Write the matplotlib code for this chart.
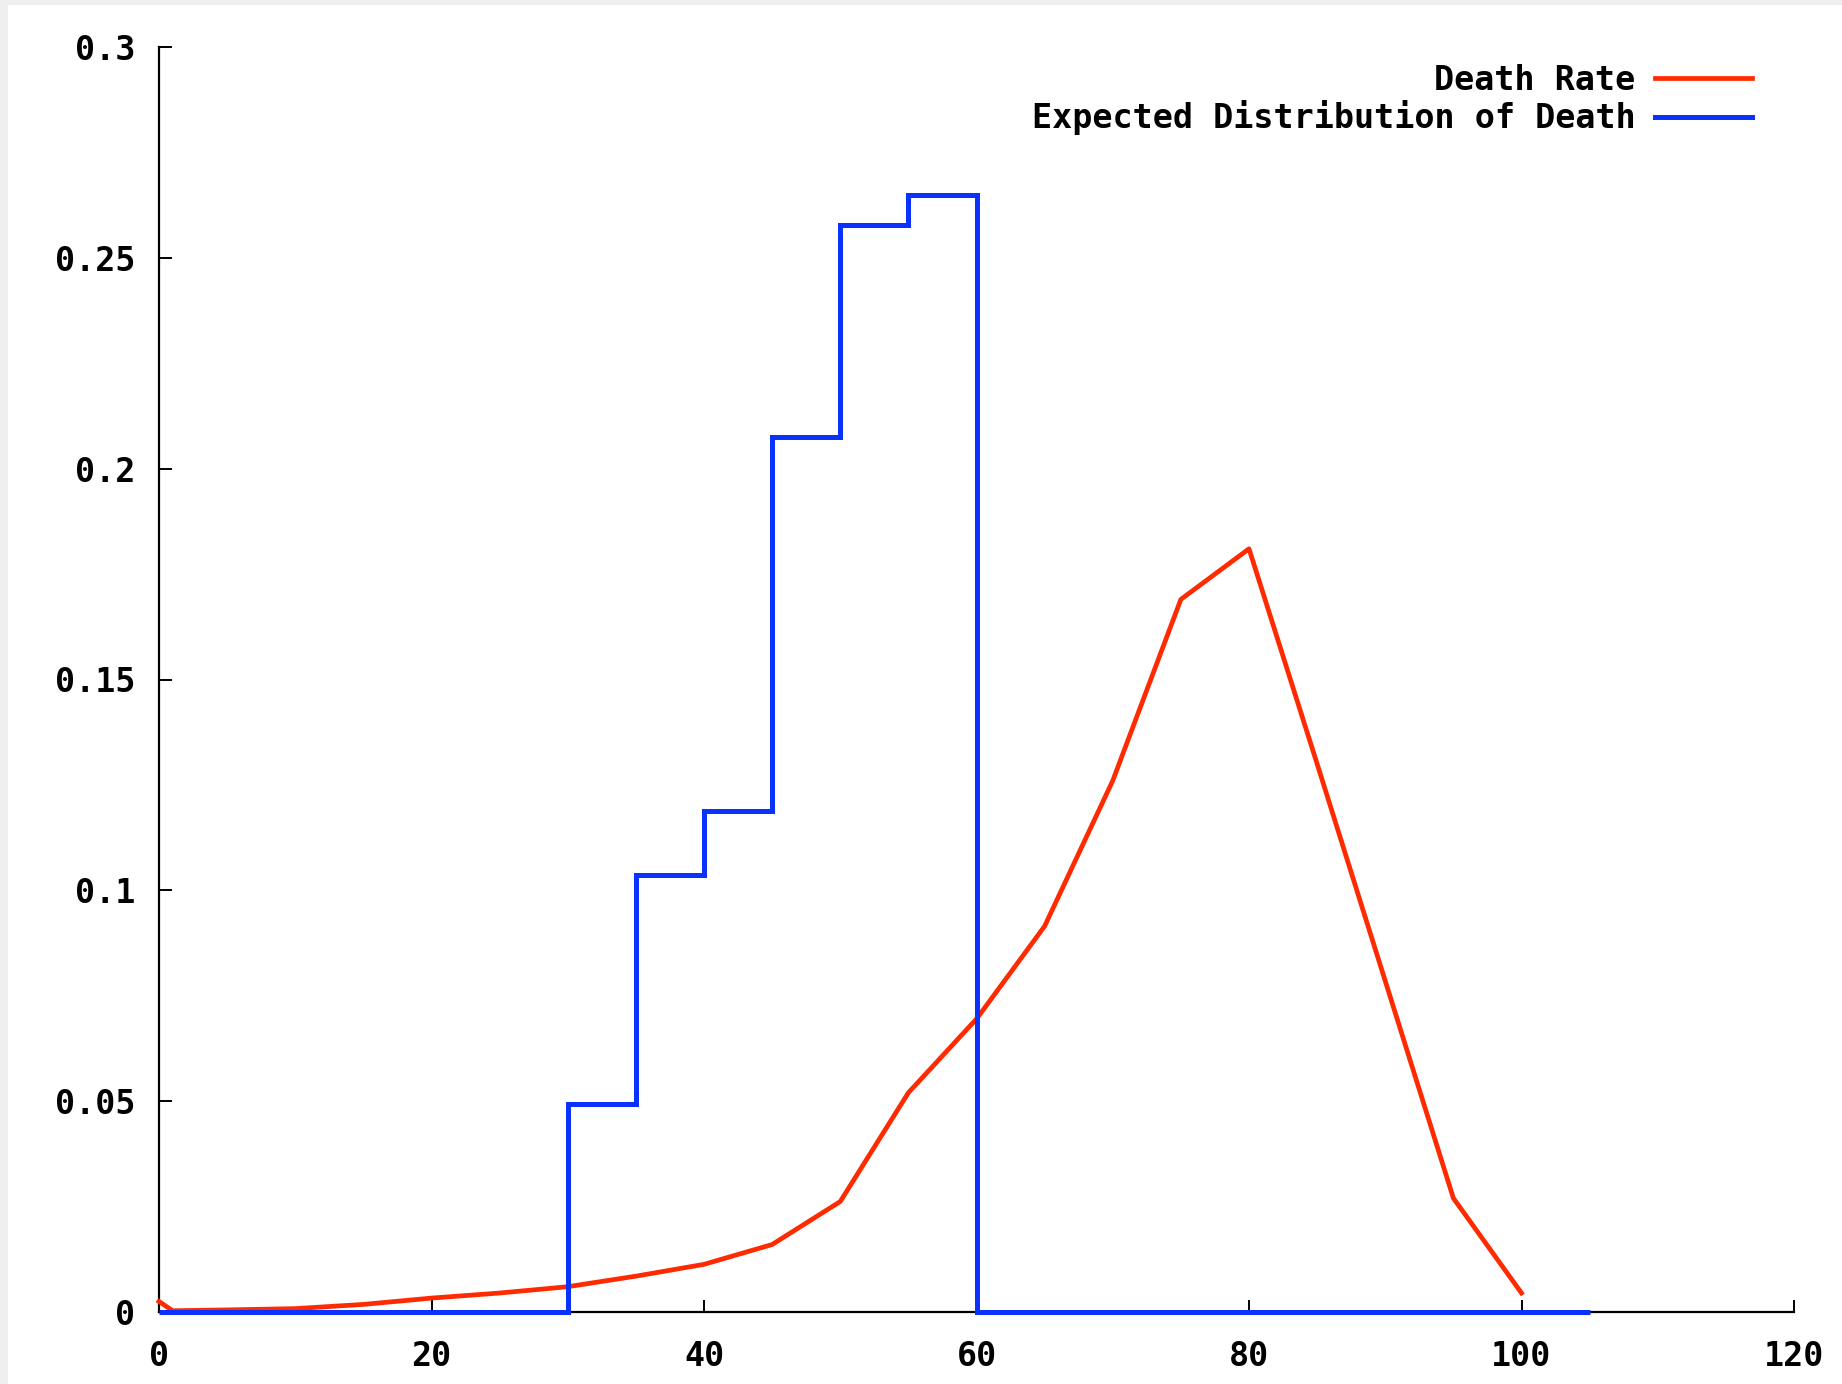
import matplotlib
matplotlib.use("Agg")
import matplotlib.pyplot as plt
from matplotlib.patches import Rectangle

# Death rate by age
ages = [0, 1, 5, 10, 15, 20, 25, 30, 35, 40, 45, 50, 55, 60, 65, 70, 75, 80, 85, 90, 95, 100]
death_rate = [0.0025, 0.0003, 0.0005, 0.0008, 0.0018, 0.0033, 0.0045, 0.0060, 0.0085,
              0.0113, 0.0160, 0.0262, 0.0520, 0.0695, 0.0915, 0.1260, 0.1690, 0.1810,
              0.1300, 0.0785, 0.0270, 0.0045]

# Expected distribution of death (step histogram)
dist_edges = [0, 30, 35, 40, 45, 50, 55, 60, 105]
dist_values = [0.0, 0.0493, 0.1036, 0.1187, 0.2075, 0.2577, 0.2649, 0.0]

xticks = [0, 20, 40, 60, 80, 100, 120]
yticks = [0, 0.05, 0.1, 0.15, 0.2, 0.25, 0.3]
ytick_labels = ["0", "0.05", "0.1", "0.15", "0.2", "0.25", "0.3"]

RED = "#ff2a00"
BLUE = "#0a32ff"

plt.rcParams["font.family"] = "DejaVu Sans Mono"
plt.rcParams["font.weight"] = "bold"

fig = plt.figure(figsize=(18.42, 13.84), dpi=100, facecolor="#efefef")
# white canvas with thin grey margin on the top/left
fig.patches.append(Rectangle((8 / 1842, 0), 1, 1 - 5 / 1384, transform=fig.transFigure,
                             facecolor="white", edgecolor="none", zorder=-10))

ax = fig.add_axes([159 / 1842, 1 - 1312 / 1384, (1794 - 159) / 1842, (1312 - 47) / 1384])
ax.set_facecolor("none")

ax.plot(ages, death_rate, color=RED, lw=3.4, label="Death Rate", zorder=3, clip_on=False)
ax.stairs(dist_values, dist_edges, baseline=None, color=BLUE, lw=3.6,
          label="Expected Distribution of Death", zorder=4, clip_on=False)

ax.set_xlim(0, 120)
ax.set_ylim(0, 0.3)
ax.set_xticks(xticks)
ax.set_xticklabels([str(t) for t in xticks])
ax.set_yticks(yticks)
ax.set_yticklabels(ytick_labels)

for side in ["top", "right"]:
    ax.spines[side].set_visible(False)
for side in ["left", "bottom"]:
    ax.spines[side].set_linewidth(1.6)
    ax.spines[side].set_color("black")
    ax.spines[side].set_zorder(2)

ax.tick_params(axis="both", direction="in", length=9, width=1.4, labelsize=24, colors="black")
ax.tick_params(axis="x", pad=20)
ax.tick_params(axis="y", pad=17)
for lab in ax.get_xticklabels() + ax.get_yticklabels():
    lab.set_fontweight("bold")

ax.legend(loc="upper right", bbox_to_anchor=(1752 / 1842, 1 - 64 / 1384),
          bbox_transform=fig.transFigure, frameon=False, markerfirst=False,
          fontsize=24, handlelength=2.9, handletextpad=0.6, labelspacing=0.1,
          borderaxespad=0, borderpad=0)

fig.savefig("out.png", dpi=100, facecolor=fig.get_facecolor())
